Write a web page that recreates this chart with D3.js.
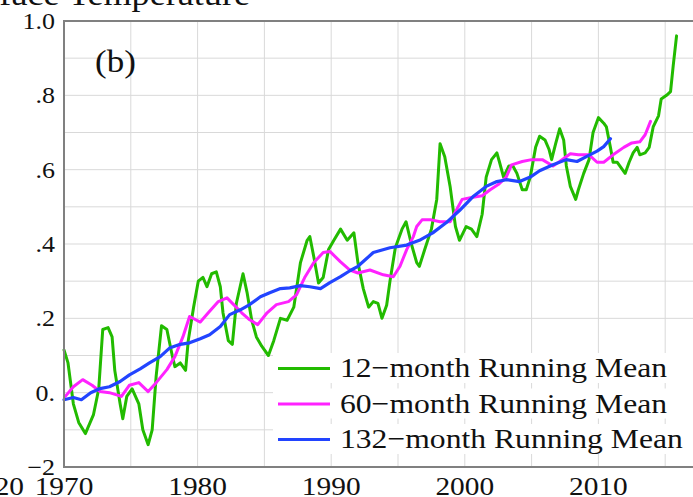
<!DOCTYPE html>
<meta charset="utf-8">
<style>
body { margin: 0; background: #fff; }
svg { display: block; }
.lbl { font-family: 'Liberation Serif', 'Times New Roman', serif; fill: #111; }
</style>
<body>
<script src="https://d3js.org/d3.v7.min.js"></script>
<script>

// 12-month running mean (green)
var run12 = [
  [1970.0, 0.115], [1970.3, 0.08], [1970.7, -0.03], [1971.1, -0.08], [1971.6, -0.11],
  [1972.2, -0.06], [1972.6, 0.01], [1972.9, 0.17], [1973.3, 0.175], [1973.6, 0.15],
  [1973.8, 0.06], [1974.2, -0.03], [1974.4, -0.07], [1974.7, -0.01], [1975.1, 0.01],
  [1975.6, -0.03], [1975.9, -0.10], [1976.3, -0.14], [1976.6, -0.10], [1976.9, 0.045],
  [1977.3, 0.18], [1977.7, 0.17], [1978.1, 0.10], [1978.3, 0.07], [1978.7, 0.08],
  [1979.1, 0.06], [1979.3, 0.14], [1979.7, 0.23], [1980.05, 0.30], [1980.4, 0.31],
  [1980.7, 0.285], [1981.05, 0.32], [1981.4, 0.325], [1981.7, 0.285], [1981.9, 0.215],
  [1982.3, 0.14], [1982.6, 0.13], [1982.9, 0.24], [1983.4, 0.32], [1983.7, 0.27],
  [1984.05, 0.195], [1984.4, 0.15], [1984.8, 0.125], [1985.3, 0.10], [1985.7, 0.14],
  [1986.2, 0.20], [1986.7, 0.195], [1987.2, 0.23], [1987.7, 0.35], [1988.2, 0.41],
  [1988.4, 0.42], [1988.7, 0.365], [1989.05, 0.295], [1989.4, 0.31], [1989.8, 0.385],
  [1990.2, 0.41], [1990.7, 0.44], [1991.2, 0.41], [1991.7, 0.43], [1992.0, 0.35],
  [1992.4, 0.28], [1992.8, 0.23], [1993.15, 0.245], [1993.5, 0.24], [1993.8, 0.20],
  [1994.15, 0.235], [1994.4, 0.30], [1994.8, 0.39], [1995.3, 0.44], [1995.6, 0.46],
  [1996.0, 0.40], [1996.4, 0.35], [1996.6, 0.34], [1997.0, 0.385], [1997.5, 0.44],
  [1997.9, 0.52], [1998.15, 0.67], [1998.5, 0.635], [1998.9, 0.555], [1999.3, 0.447],
  [1999.6, 0.41], [2000.1, 0.447], [2000.5, 0.44], [2000.9, 0.42], [2001.3, 0.48],
  [2001.6, 0.58], [2002.0, 0.627], [2002.4, 0.645], [2002.6, 0.62], [2002.9, 0.58],
  [2003.3, 0.61], [2003.6, 0.61], [2003.9, 0.59], [2004.3, 0.546], [2004.6, 0.546],
  [2004.9, 0.58], [2005.3, 0.66], [2005.6, 0.69], [2006.0, 0.68], [2006.3, 0.655],
  [2006.5, 0.627], [2006.8, 0.67], [2007.1, 0.71], [2007.4, 0.68], [2007.6, 0.61],
  [2007.9, 0.555], [2008.3, 0.52], [2008.5, 0.546], [2008.9, 0.59], [2009.3, 0.627],
  [2009.6, 0.70], [2010.0, 0.74], [2010.4, 0.725], [2010.6, 0.715], [2010.9, 0.66],
  [2011.1, 0.62], [2011.4, 0.62], [2011.8, 0.60], [2012.0, 0.59], [2012.3, 0.62],
  [2012.6, 0.645], [2012.9, 0.66], [2013.1, 0.64], [2013.5, 0.645], [2013.8, 0.66],
  [2014.1, 0.715], [2014.5, 0.745], [2014.7, 0.79], [2015.1, 0.80], [2015.4, 0.81],
  [2015.6, 0.88], [2015.85, 0.96]
];

// 60-month running mean (magenta)
var run60 = [
  [1970.1, -0.01], [1970.7, 0.016], [1971.4, 0.035], [1972.1, 0.02], [1972.7, 0.003],
  [1973.4, 0.0], [1974.3, -0.01], [1974.9, 0.02], [1975.6, 0.027], [1976.3, 0.003],
  [1976.9, 0.027], [1977.7, 0.062], [1978.3, 0.097], [1978.9, 0.15], [1979.4, 0.205],
  [1980.2, 0.19], [1980.8, 0.215], [1981.55, 0.245], [1982.2, 0.255], [1982.7, 0.237],
  [1983.3, 0.215], [1983.9, 0.196], [1984.5, 0.183], [1985.2, 0.215], [1985.9, 0.237],
  [1986.8, 0.245], [1987.4, 0.263], [1988.05, 0.312], [1988.7, 0.35], [1989.4, 0.377],
  [1989.9, 0.38], [1990.7, 0.352], [1991.4, 0.33], [1992.0, 0.322], [1992.9, 0.33],
  [1993.9, 0.317], [1994.65, 0.312], [1995.15, 0.34], [1995.65, 0.385], [1996.15, 0.42],
  [1996.4, 0.447], [1996.8, 0.465], [1997.5, 0.465], [1998.15, 0.46], [1998.9, 0.46],
  [1999.8, 0.52], [2000.5, 0.525], [2001.3, 0.53], [2001.9, 0.546], [2002.5, 0.56],
  [2003.1, 0.58], [2003.5, 0.613], [2004.3, 0.622], [2005.0, 0.627], [2005.8, 0.627],
  [2006.6, 0.61], [2007.1, 0.622], [2007.9, 0.643], [2008.5, 0.64], [2009.3, 0.64],
  [2009.9, 0.62], [2010.4, 0.62], [2011.1, 0.64], [2011.9, 0.66], [2012.5, 0.672],
  [2013.1, 0.675], [2013.5, 0.694], [2013.9, 0.73]
];

// 132-month running mean (blue)
var run132 = [
  [1970.0, -0.019], [1970.7, -0.013], [1971.3, -0.019], [1972.0, 0.0], [1972.7, 0.011],
  [1973.4, 0.016], [1974.2, 0.03], [1974.9, 0.048], [1975.7, 0.064], [1976.4, 0.08],
  [1977.2, 0.097], [1977.9, 0.12], [1978.7, 0.13], [1979.4, 0.134], [1980.2, 0.145],
  [1980.9, 0.156], [1981.7, 0.178], [1982.4, 0.21], [1983.2, 0.223], [1983.9, 0.237],
  [1984.7, 0.258], [1985.4, 0.269], [1986.2, 0.28], [1986.9, 0.282], [1987.7, 0.288],
  [1988.4, 0.285], [1989.2, 0.28], [1989.9, 0.296], [1990.7, 0.312], [1991.4, 0.328],
  [1992.0, 0.34], [1993.15, 0.377], [1994.4, 0.39], [1995.65, 0.397], [1996.6, 0.41],
  [1997.6, 0.43], [1998.6, 0.457], [1999.6, 0.49], [2000.6, 0.527], [2001.6, 0.555],
  [2002.4, 0.568], [2003.1, 0.573], [2004.1, 0.568], [2004.9, 0.58], [2005.6, 0.597],
  [2006.6, 0.613], [2007.6, 0.627], [2008.4, 0.622], [2009.1, 0.635], [2009.9, 0.65],
  [2010.4, 0.662], [2010.9, 0.683]
];

var seriesData = [run12, run60, run132];
var seriesColors = ["#22bb00", "#ff22ff", "#2244ff"];
var legendLabels = ["12\u2212month Running Mean", "60\u2212month Running Mean", "132\u2212month Running Mean"];

// axis ticks
var xLabelYears = [1970, 1980, 1990, 2000, 2010];
var xGridYears = d3.range(1970, 2016, 5);
var yTickValues = [-0.2, 0.0, 0.2, 0.4, 0.6, 0.8, 1.0];
var yTickLabels = ["\u22122", "0.", ".2", ".4", ".6", ".8", "1.0"];
var yGridValues = d3.range(-2, 11).map(function(d) { return d / 10; });

// glyphs in the source are drawn a bit wider than tall
var stretch = 1.13;

var W = 693, H = 497;
var x = d3.scaleLinear().domain([1970, 2017.5]).range([64, 698.6]);
var y = d3.scaleLinear().domain([-0.2, 1.0]).range([467, 21]);

var svg = d3.select("body").append("svg")
    .attr("width", W)
    .attr("height", H);

// title, cut off at the top
svg.append("text")
    .attr("class", "lbl")
    .attr("text-anchor", "end")
    .attr("transform", "translate(250,4.5) scale(" + stretch + ",1)")
    .style("font-size", "32px")
    .text("Global Surface Temperature");

// grid
svg.append("g").selectAll("line")
    .data(xGridYears)
    .enter().append("line")
    .attr("x1", function(d) { return x(d); })
    .attr("x2", function(d) { return x(d); })
    .attr("y1", y(1.0))
    .attr("y2", y(-0.2))
    .style("stroke", "#d9d9d9")
    .style("stroke-width", 1);

svg.append("g").selectAll("line")
    .data(yGridValues)
    .enter().append("line")
    .attr("x1", x(1970))
    .attr("x2", W)
    .attr("y1", function(d) { return y(d); })
    .attr("y2", function(d) { return y(d); })
    .style("stroke", "#d9d9d9")
    .style("stroke-width", 1);

// the lines
var valueline = d3.line()
    .x(function(d) { return x(d[0]); })
    .y(function(d) { return y(d[1]); });

seriesData.forEach(function(s, i) {
    svg.append("path")
        .datum(s)
        .attr("d", valueline)
        .style("fill", "none")
        .style("stroke", seriesColors[i])
        .style("stroke-width", i == 2 ? 3.2 : 3)
        .style("stroke-linejoin", "round")
        .style("stroke-linecap", "round");
});

// frame
svg.append("path")
    .attr("d", "M" + W + "," + y(1.0) + "H" + x(1970) + "V" + y(-0.2) + "H" + W)
    .style("fill", "none")
    .style("stroke", "#808080")
    .style("stroke-width", 2);

// legend, one white strip per row
var legend = svg.append("g").selectAll("g")
    .data(legendLabels)
    .enter().append("g")
    .attr("transform", function(d, i) { return "translate(0," + (377 + i * 35.5) + ")"; });

legend.append("rect")
    .attr("x", 273)
    .attr("y", -24)
    .attr("width", W - 273)
    .attr("height", 30)
    .style("fill", "#fff");

legend.append("line")
    .attr("x1", 278)
    .attr("x2", 330)
    .attr("y1", -8.5)
    .attr("y2", -8.5)
    .style("stroke", function(d, i) { return seriesColors[i]; })
    .style("stroke-width", 3);

legend.append("text")
    .attr("class", "lbl")
    .attr("transform", "translate(340,0) scale(" + stretch + ",1)")
    .style("font-size", "28px")
    .text(function(d) { return d; });

// panel tag
svg.append("text")
    .attr("class", "lbl")
    .attr("transform", "translate(95,72) scale(" + stretch + ",1)")
    .style("font-size", "31px")
    .text("(b)");

// y labels
svg.append("g").selectAll("text")
    .data(yTickValues)
    .enter().append("text")
    .attr("class", "lbl")
    .attr("text-anchor", "end")
    .attr("transform", function(d) { return "translate(55," + (y(d) + 8) + ") scale(" + stretch + ",1)"; })
    .style("font-size", "23px")
    .text(function(d, i) { return yTickLabels[i]; });

// x labels
svg.append("g").selectAll("text")
    .data(xLabelYears)
    .enter().append("text")
    .attr("class", "lbl")
    .attr("text-anchor", "middle")
    .attr("transform", function(d) { return "translate(" + x(d) + ",495) scale(" + stretch + ",1)"; })
    .style("font-size", "26px")
    .text(function(d) { return d; });

// leftover label at the left edge
svg.append("text")
    .attr("class", "lbl")
    .attr("text-anchor", "end")
    .attr("transform", "translate(24,495) scale(" + stretch + ",1)")
    .style("font-size", "26px")
    .text("20");

</script>
</body>
